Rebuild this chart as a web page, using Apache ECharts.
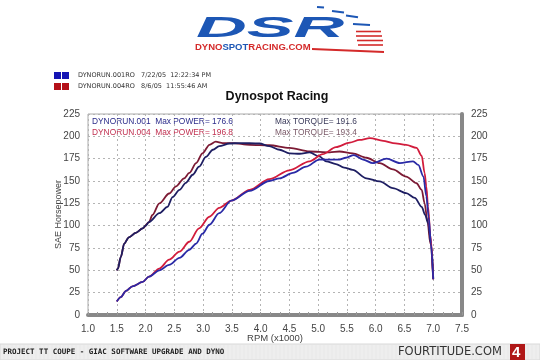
<!DOCTYPE html>
<html><head><meta charset="utf-8">
<script src="https://cdn.jsdelivr.net/npm/echarts@6/dist/echarts.min.js"></script>
<style>html,body{margin:0;padding:0;background:#fff}#c{width:540px;height:360px}</style>
</head><body><div id="c"></div>
<script>
// Data (RPM x1000, SAE horsepower / torque)
const xTicks = [1.0,1.5,2.0,2.5,3.0,3.5,4.0,4.5,5.0,5.5,6.0,6.5,7.0,7.5];
const yTicks = [0,25,50,75,100,125,150,175,200,225];

const run001PowerRpm = [1.50,1.57,1.66,1.77,1.95,2.06,2.24,2.41,2.59,2.76,2.88,2.99,3.11,3.28,3.49,3.81,4.15,4.33,4.56,4.79,5.02,5.20,5.37,5.48,5.62,5.78,5.95,6.19,6.42,6.65,6.74,6.83,6.88,6.92,6.96,7.00];
const run001Power    = [15,20,27,32,37,43,50,56,64,73,80,91,101,114,128,139,150,153,159,166,174,174,174,176,179,174,170,175,170,172,168,155,133,110,80,40];

const run004PowerRpm = [1.50,1.57,1.66,1.77,1.95,2.06,2.24,2.41,2.59,2.76,2.93,3.11,3.28,3.49,3.81,4.15,4.50,4.85,5.08,5.31,5.55,5.72,5.90,6.13,6.30,6.53,6.71,6.80,6.85,6.88,6.91,6.95,7.00];
const run004Power    = [15,20,27,32,37,43,52,62,71,82,97,110,120,128,140,152,162,172,180,188,193,196,198,195,192.5,190.5,187,178,159,144,121,90,40];

const run001TorqueRpm = [1.50,1.52,1.57,1.63,1.71,1.83,1.95,2.00,2.06,2.24,2.38,2.47,2.59,2.70,2.82,2.93,3.05,3.17,3.28,3.46,3.63,3.98,4.15,4.33,4.50,4.68,4.85,5.02,5.14,5.31,5.45,5.60,5.84,6.07,6.30,6.53,6.68,6.80,6.86,6.91,6.97,7.00];
const run001Torque    = [50,52,65,80,87,92,97,100,104,114,121,132,140,148,157,166,177,185,189,192,192.5,192,189,185,181,180.5,182,177.5,172,169,165,162.5,153,149.5,142,136.5,131,121,112,103,77,41];

const run004TorqueRpm = [1.50,1.52,1.57,1.63,1.71,1.83,1.95,2.06,2.12,2.24,2.41,2.53,2.67,2.76,2.88,2.99,3.11,3.22,3.34,3.51,3.81,4.15,4.50,4.85,5.20,5.37,5.60,5.84,6.07,6.30,6.53,6.71,6.80,6.85,6.90,6.95,7.00];
const run004Torque    = [50,52,65,80,87,92,97,104,112,125,136,144,153,159,170,181,190.5,194,192.5,192.5,190.5,190,187,183,182,183,181,176,170,163,155,147.5,140,125,105,80,40];

const legendRuns = ['DYNORUN.001RO   7/22/05  12:22:34 PM','DYNORUN.004RO   8/6/05  11:55:46 AM'];
const maxLines = ['DYNORUN.001  Max POWER= 176.6','DYNORUN.004  Max POWER= 196.8'];
const torqueLines = ['Max TORQUE= 191.6','Max TORQUE= 193.4'];

const pairs = (xs, ys) => xs.map((x,i)=>[x, ys[i]]);
const chart = echarts.init(document.getElementById('c'));

const FONT = 'Liberation Sans, Arial, sans-serif';
const gridLine = {show:true, lineStyle:{color:'#b4b4b4', type:[2,3], width:1}};
const axisLbl = {color:'#444', fontSize:10, fontFamily:FONT};

function line(name, data, color, z){
  return {name, type:'line', data, showSymbol:false, smooth:0.3, smoothMonotone:'x',
    lineStyle:{color, width:1.8}, z, silent:true};
}

const g = [];
// logo: speed dashes
[[317,7,324,7.6],[332,11,344,12.6],[346,15.5,358,17.2],[353,24,370,25]].forEach(s=>{
  g.push({type:'line', shape:{x1:s[0],y1:s[1],x2:s[2],y2:s[3]}, style:{stroke:'#1d57b5', lineWidth:2}});
});
[[356,31.5,381,31.5],[356,36,382,36],[357,40.5,383,40.5],[358,45,383,45]].forEach(s=>{
  g.push({type:'line', shape:{x1:s[0],y1:s[1],x2:s[2],y2:s[3]}, style:{stroke:'#d42a2a', lineWidth:1.6}});
});
g.push({type:'polygon', shape:{points:[[312,48],[384,51],[384,53],[312,50]]}, style:{fill:'#d42a2a'}});
g.push({type:'text', x:196, y:14, scaleX:2.42, style:{text:'DSR', fill:'#1d57b5', font:'italic bold 29px Liberation Sans, Arial'}});
g.push({type:'text', left:195, top:42, style:{rich:{a:{fill:'#d42a2a',font:'bold 9.5px Liberation Sans'},b:{fill:'#1d57b5',font:'bold 9.5px Liberation Sans'}}, text:'{a|DYNO}{b|SPOT}{a|RACING.COM}'}});
// legend
[['#1414b4',72],['#b41018',83]].forEach(([c,y])=>{
  g.push({type:'rect', shape:{x:54,y:y,width:7,height:7}, style:{fill:c}});
  g.push({type:'rect', shape:{x:62,y:y,width:7,height:7}, style:{fill:c}});
});
legendRuns.forEach((t,i)=>{
  g.push({type:'text', left:78, top:72+i*11, style:{text:t, fill:'#333', font:'6.5px DejaVu Sans', textLetterSpacing:1.3}});
});
// title
g.push({type:'text', x:277, y:90, style:{text:'Dynospot Racing', fill:'#111', font:'bold 12.5px Liberation Sans, Arial', align:'center'}});
// inner annotations
g.push({type:'text', x:92, y:116, scaleX:0.88, style:{text:maxLines[0], fill:'#2b2b8a', font:'9.5px Liberation Sans'}});
g.push({type:'text', x:92, y:127, scaleX:0.88, style:{text:maxLines[1], fill:'#c03050', font:'9.5px Liberation Sans'}});
g.push({type:'text', x:275, y:116, scaleX:0.88, style:{text:torqueLines[0], fill:'#3a3a5a', font:'9.5px Liberation Sans'}});
g.push({type:'text', x:275, y:127, scaleX:0.88, style:{text:torqueLines[1], fill:'#7a5a68', font:'9.5px Liberation Sans'}});
// bottom banner
g.push({type:'rect', shape:{x:0,y:344,width:540,height:16}, style:{fill:'#eeeeee', stroke:'#d8d8d8'}});
for(let x=0;x<540;x+=4){ g.push({type:'line', silent:true, shape:{x1:x,y1:344,x2:x,y2:360}, style:{stroke:'#e2e2e2', lineWidth:0.5}}); }
g.push({type:'text', left:3, top:348, style:{text:'PROJECT TT COUPE - GIAC SOFTWARE UPGRADE AND DYNO', fill:'#222', font:'bold 7.5px DejaVu Sans Mono'}});
g.push({type:'text', left:398, top:346, style:{text:'FOURTITUDE.COM', fill:'#333', font:'11.5px DejaVu Sans', textLetterSpacing:0.9}});
g.push({type:'rect', shape:{x:510,y:344,width:15,height:16}, style:{fill:'#b01818'}});
g.push({type:'text', left:512, top:345, style:{text:'4', fill:'#fff', font:'bold 15px Liberation Sans'}});

chart.setOption({
  animation:false,
  backgroundColor:'#fff',
  grid:{left:88, right:78, top:114, bottom:45, show:true, borderColor:'#aaa', borderWidth:1},
  xAxis:{type:'value', min:1.0, max:7.5, interval:0.5,
    name:'RPM (x1000)', nameLocation:'middle', nameGap:18, nameMoveOverlap:false,
    nameTextStyle:{color:'#444', fontSize:9.5, fontFamily:FONT},
    axisLine:{show:true, onZero:false, lineStyle:{color:'#888', width:4}},
    axisTick:{show:true, inside:true, length:3, lineStyle:{color:'#999'}},
    minorTick:{show:true, splitNumber:3, length:3, lineStyle:{color:'#999'}},
    axisLabel:Object.assign({margin:9, formatter:v=>v.toFixed(1)}, axisLbl),
    splitLine:gridLine},
  yAxis:[
    {type:'value', min:0, max:225, interval:25, position:'left',
     name:'SAE Horsepower', nameLocation:'middle', nameGap:25, nameMoveOverlap:false,
     nameTextStyle:{color:'#444', fontSize:9, fontFamily:FONT},
     axisLine:{show:false}, axisTick:{show:false}, axisLabel:Object.assign({margin:8}, axisLbl), splitLine:gridLine},
    {type:'value', min:0, max:225, interval:25, position:'right',
     axisLine:{show:true, lineStyle:{color:'#888', width:4}}, axisTick:{show:false},
     axisLabel:Object.assign({margin:9}, axisLbl), splitLine:{show:false}}
  ],
  series:[
    line('Run 001 Torque', pairs(run001TorqueRpm, run001Torque), '#1e1e62', 3),
    line('Run 004 Torque', pairs(run004TorqueRpm, run004Torque), '#7c1a34', 2),
    line('Run 001 Power', pairs(run001PowerRpm, run001Power), '#2a2aa6', 4),
    line('Run 004 Power', pairs(run004PowerRpm, run004Power), '#d21c3c', 3)
  ],
  graphic:g
});
</script></body></html>
